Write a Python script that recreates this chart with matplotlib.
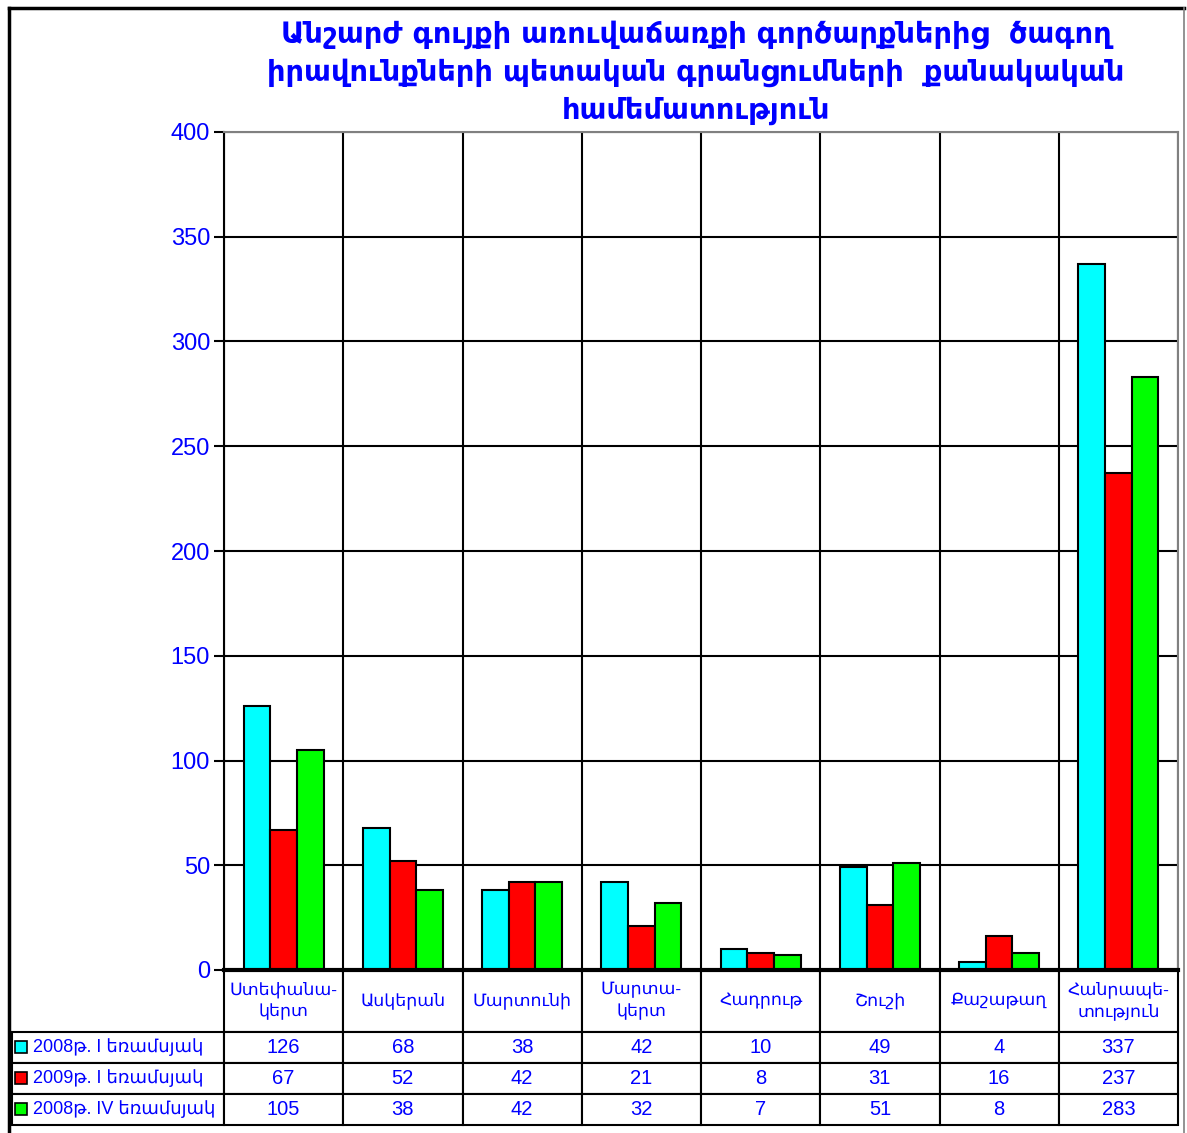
import numpy as np
import matplotlib
matplotlib.use('Agg')
import matplotlib.pyplot as plt
from matplotlib.patches import Rectangle
from matplotlib.lines import Line2D

plt.rcParams['font.family'] = ['Liberation Sans', 'DejaVu Sans']

title = ('Անշարժ գույքի առուվաճառքի գործարքներից  ծագող\n'
         'իրավունքների պետական գրանցումների  քանակական\n'
         'համեմատություն')
categories = ['Ստեփանա-\nկերտ', 'Ասկերան', 'Մարտունի', 'Մարտա-\nկերտ',
              'Հադրութ', 'Շուշի', 'Քաշաթաղ', 'Հանրապե-\nտություն']
series_names = ['2008թ. I եռամսյակ', '2009թ. I եռամսյակ', '2008թ. IV եռամսյակ']
q1_2008 = [126, 68, 38, 42, 10, 49, 4, 337]
q1_2009 = [67, 52, 42, 21, 8, 31, 16, 237]
q4_2008 = [105, 38, 42, 32, 7, 51, 8, 283]
series = [q1_2008, q1_2009, q4_2008]
colors = ['#00FFFF', '#FF0000', '#00FF00']
yticks = list(range(0, 401, 50))

W, H = 1187, 1133
fig = plt.figure(figsize=(W / 100, H / 100), dpi=100)
# plot area in pixels: x 224..1178, y 132..970
ax = fig.add_axes([224 / W, 1 - 970 / H, 954 / W, 838 / H])

blue = '#0000FF'
x = np.arange(len(categories))
bw = 0.223
for k, (vals, c) in enumerate(zip(series, colors)):
    ax.bar(x + (k - 1) * bw, vals, width=bw, color=c, edgecolor='black',
           linewidth=1.5, zorder=3)

ax.set_xlim(-0.5, len(categories) - 0.5)
ax.set_ylim(0, 400)
ax.set_yticks(yticks)
ax.tick_params(axis='y', colors='black', labelcolor=blue, labelsize=17,
               length=7, width=1.5, pad=3)
ax.set_xticks([])
ax.set_xticks(np.arange(-0.5, len(categories), 1), minor=True)
ax.tick_params(axis='x', which='minor', length=0)
ax.grid(axis='y', color='black', linewidth=1.5, zorder=1)
ax.grid(axis='x', which='minor', color='black', linewidth=1.5, zorder=1)
for s in ['top', 'right']:
    ax.spines[s].set_color('#808080')
    ax.spines[s].set_linewidth(1.5)
ax.spines['left'].set_linewidth(1.5)
ax.spines['bottom'].set_linewidth(3)
ax.spines['bottom'].set_zorder(4)

fig.text(696 / W, 1 - 73 / H, title, ha='center', va='center', color=blue,
         fontsize=20.7, fontweight='bold', family=['DejaVu Sans'],
         linespacing=1.43)

# data table
cell_text = [[name] + [str(v) for v in vals] for name, vals in zip(series_names, series)]
tab = ax.table(cellText=cell_text, colLabels=[''] + categories, cellLoc='center',
               colWidths=[212] + [119.25] * len(categories),
               bbox=[-212 / 954, -155 / 838, 1166 / 954, 155 / 838])
tab.auto_set_font_size(False)
tab.set_fontsize(14.5)
for (r, c), cell in tab.get_celld().items():
    cell.set_edgecolor('black')
    cell.set_linewidth(1.5)
    cell.get_text().set_color(blue)
    if r == 0:
        cell.set_height(cell.get_height() * 2)
        cell.get_text().set_fontsize(12.5)
        cell.get_text().set_linespacing(1.4)
        if c == 0:
            cell.visible_edges = 'open'
    elif c == 0:
        cell._loc = 'left'
        cell.get_text().set_ha('left')
        cell.get_text().set_fontsize(13)

for k, c in enumerate(colors):
    yc = 1047 + 31 * k
    ax.add_patch(Rectangle(((15 - 224) / 954, (970 - yc - 6) / 838), 12 / 954, 12 / 838,
                           transform=ax.transAxes, clip_on=False,
                           facecolor=c, edgecolor='black', linewidth=1.2, zorder=5))

# outer frame
fig.add_artist(Line2D([9 / W, 9 / W], [0, 1 - 8 / H], color='black', linewidth=2.5,
                      transform=fig.transFigure))
fig.add_artist(Line2D([9 / W, 1184 / W], [1 - 8 / H, 1 - 8 / H], color='black',
                      linewidth=2.5, transform=fig.transFigure))
fig.add_artist(Line2D([1184 / W, 1184 / W], [0, 1 - 8 / H], color='#808080',
                      linewidth=1.2, transform=fig.transFigure))

fig.savefig('out.png', dpi=100)
